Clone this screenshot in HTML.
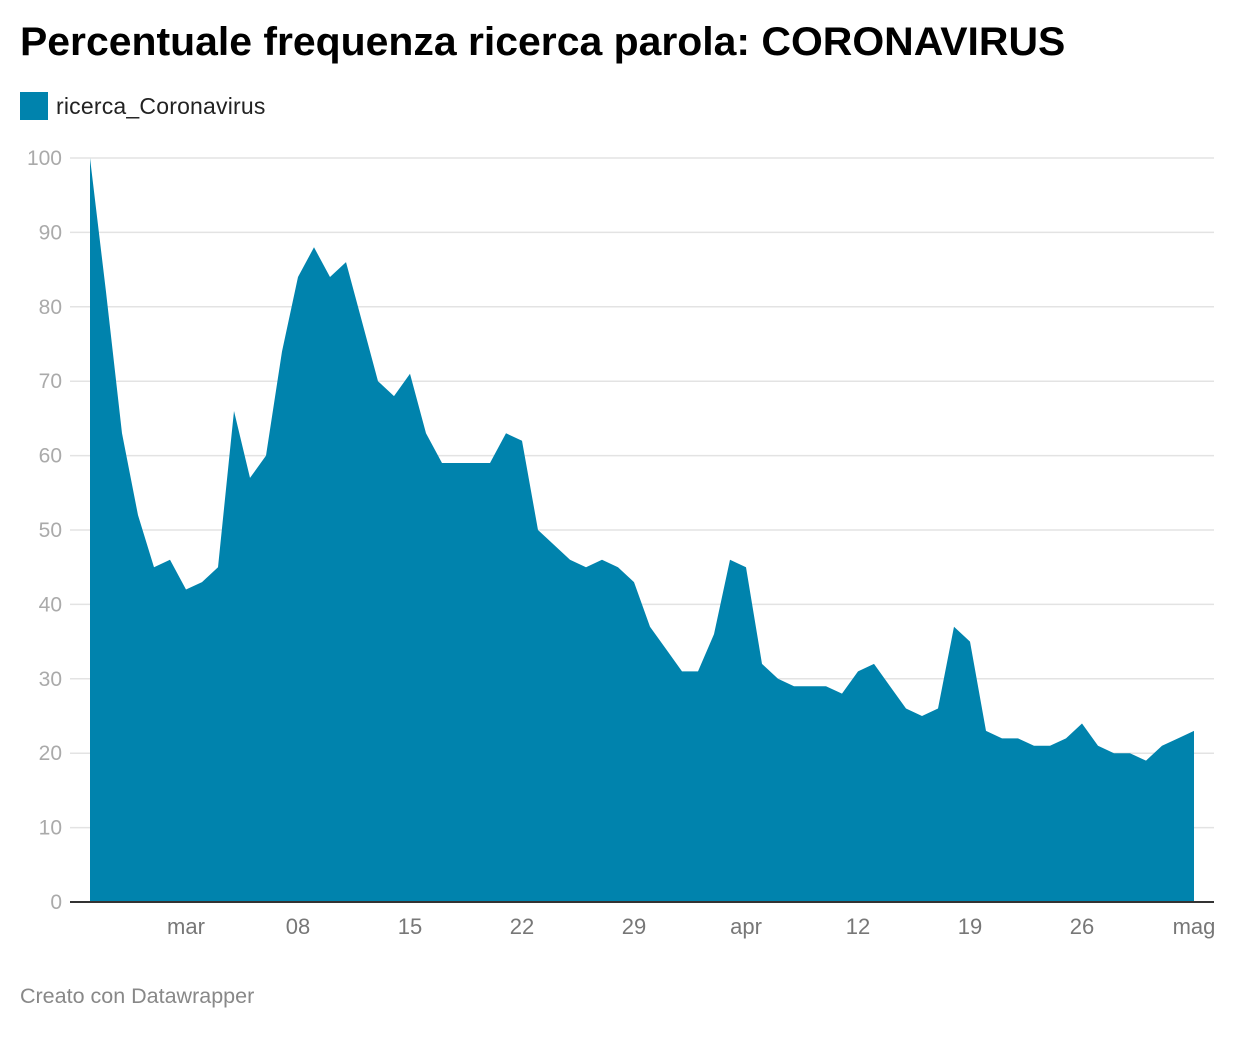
<!DOCTYPE html>
<html><head><meta charset="utf-8">
<style>
body{margin:0;background:#fff;font-family:"Liberation Sans",sans-serif;}
#wrap{position:relative;width:1240px;height:1040px;overflow:hidden;}
h1{position:absolute;left:20px;top:20px;margin:0;font-size:40px;font-weight:bold;color:#000;transform:scaleX(1.023);transform-origin:left top;white-space:nowrap;}
#legend{position:absolute;left:20px;top:92px;font-size:23px;color:#222;display:flex;align-items:center;letter-spacing:0.2px;}
#legend span.sw{display:inline-block;width:28px;height:28px;background:#0083ad;margin-right:8px;}
#foot{position:absolute;left:20px;top:984px;font-size:21.5px;color:#888;}
</style></head><body>
<div id="wrap">
<h1>Percentuale frequenza ricerca parola: CORONAVIRUS</h1>
<div id="legend"><span class="sw"></span><span>ricerca_Coronavirus</span></div>
<svg id="chart" width="1240" height="1040" style="position:absolute;left:0;top:0"></svg>
<div id="foot">Creato con Datawrapper</div>
</div>
<script>
const values=[100,82,63,52,45,46,42,43,45,66,57,60,74,84,88,84,86,78,70,68,71,63,59,59,59,59,63,62,50,48,46,45,46,45,43,37,34,31,31,36,46,45,32,30,29,29,29,28,31,32,29,26,25,26,37,35,23,22,22,21,21,22,24,21,20,20,19,21,22,23];
const yTicks=[0,10,20,30,40,50,60,70,80,90,100];
const xTickLabels=["mar","08","15","22","29","apr","12","19","26","mag"];
const xTickIndex=[6,13,20,27,34,41,48,55,62,69];

const svg=document.getElementById('chart');
const NS='http://www.w3.org/2000/svg';
const x0=90,x1=1194,yBase=902,yTop=158;
const xs=i=>x0+(x1-x0)*i/(values.length-1);
const ys=v=>yBase-(yBase-yTop)*v/100;
function mk(t,a){const e=document.createElementNS(NS,t);for(const k in a)e.setAttribute(k,a[k]);svg.appendChild(e);return e;}

yTicks.forEach(t=>{
  if(t>0){
    const g=mk('line',{x1:70,x2:1214,y1:ys(t),y2:ys(t),stroke:'#e3e3e3','stroke-width':1.5});
    
    
  }
  const l=mk('text',{x:62,y:ys(t)+7,'text-anchor':'end','font-size':21,fill:'#aaa','font-family':'Liberation Sans, sans-serif'});
  l.textContent=t;
  
  
});

let d='M'+xs(0)+','+yBase;
values.forEach((v,i)=>{d+=' L'+xs(i)+','+ys(v);});
d+=' L'+xs(values.length-1)+','+yBase+' Z';
const area=mk('path',{d:d,fill:'#0083ad'});



const base=mk('line',{x1:70,x2:1214,y1:yBase,y2:yBase,stroke:'#333','stroke-width':2});



xTickLabels.forEach((s,k)=>{
  const t=mk('text',{x:xs(xTickIndex[k]),y:934,'text-anchor':'middle','font-size':22,fill:'#777','font-family':'Liberation Sans, sans-serif'});
  t.textContent=s;
  
  
});
</script>
</body></html>
